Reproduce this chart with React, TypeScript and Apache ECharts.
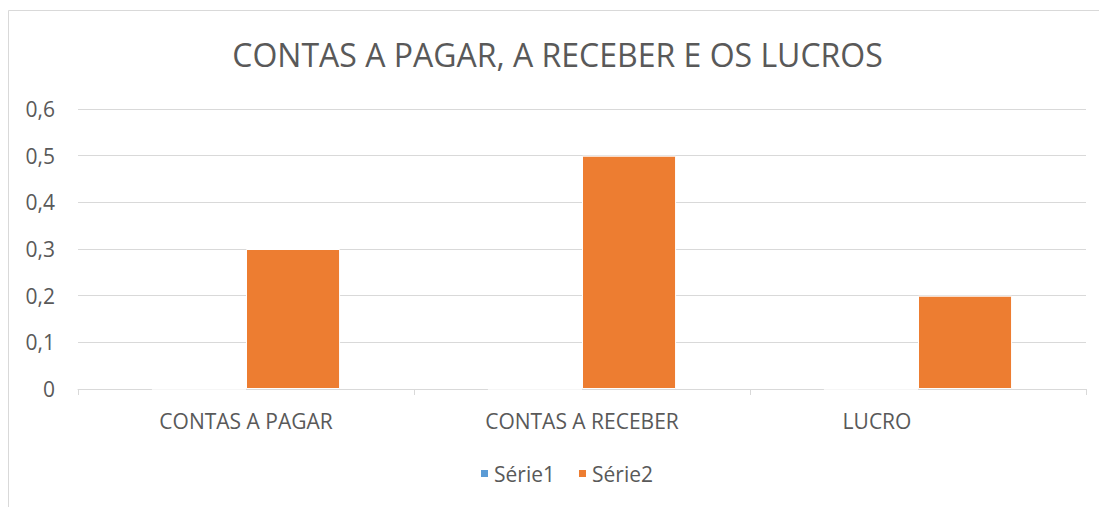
import React, { useEffect, useRef } from "react";
import * as echarts from "echarts";

const categories = ["CONTAS A PAGAR", "CONTAS A RECEBER", "LUCRO"];
const serie1 = [0, 0, 0];
const serie2 = [0.3, 0.5, 0.2];
const seriesNames = ["Série1", "Série2"];
const titleText = "CONTAS A PAGAR, A RECEBER E OS LUCROS";

export default function App() {
  const ref = useRef<HTMLDivElement>(null);
  useEffect(() => {
    if (!ref.current) return;
    const chart = echarts.init(ref.current, undefined, { renderer: "svg" });
    const font = "'Open Sans', sans-serif";
    const catData = categories.map((c, i) =>
      i === 2 ? { value: c, textStyle: { padding: [0, 82, 0, 0] } } : c
    );
    chart.setOption({
      animation: false,
      textStyle: { fontFamily: font },
      graphic: [
        {
          type: "rect",
          shape: { x: 0.5, y: 2.5, width: 1095, height: 600 },
          style: { fill: "none", stroke: "#d9d9d9", lineWidth: 1 },
          silent: true,
        },
      ],
      title: {
        text: titleText,
        left: "center",
        top: 25,
        textStyle: { fontFamily: font, fontSize: 32, fontWeight: "normal", color: "#595959" },
      },
      legend: {
        bottom: 18,
        left: 466,
        itemWidth: 9,
        itemHeight: 9,
        itemGap: 22,
        icon: "rect",
        textStyle: { fontFamily: font, fontSize: 21, color: "#595959" },
        data: seriesNames,
      },
      grid: { left: 70, top: 101, width: 1008, height: 280, containLabel: false },
      xAxis: {
        type: "category",
        data: catData,
        axisLine: { lineStyle: { color: "#d9d9d9", width: 1 } },
        axisTick: { show: true, length: 6, lineStyle: { color: "#d9d9d9" } },
        axisLabel: { fontFamily: font, fontSize: 21, color: "#595959", margin: 21 },
      },
      yAxis: {
        type: "value",
        min: 0,
        max: 0.6,
        interval: 0.1,
        axisLine: { show: false },
        axisTick: { show: false },
        splitLine: { lineStyle: { color: "#d9d9d9", width: 1 } },
        axisLabel: {
          fontFamily: font,
          fontSize: 21,
          color: "#595959",
          margin: 23,
          formatter: (v: number) => (Math.round(v * 10) / 10).toString().replace(".", ","),
        },
      },
      series: [
        {
          name: seriesNames[0],
          type: "bar",
          data: serie1,
          itemStyle: { color: "#5b9bd5", borderColor: "#fff", borderWidth: 1 },
          barGap: "0%",
          barCategoryGap: "44%",
        },
        {
          name: seriesNames[1],
          type: "bar",
          data: serie2,
          itemStyle: { color: "#ed7d31", borderColor: "#fff", borderWidth: 1 },
          barGap: "0%",
          barCategoryGap: "44%",
        },
      ],
    });
    return () => chart.dispose();
  }, []);
  return <div ref={ref} style={{ width: 1099, height: 499 }} />;
}
